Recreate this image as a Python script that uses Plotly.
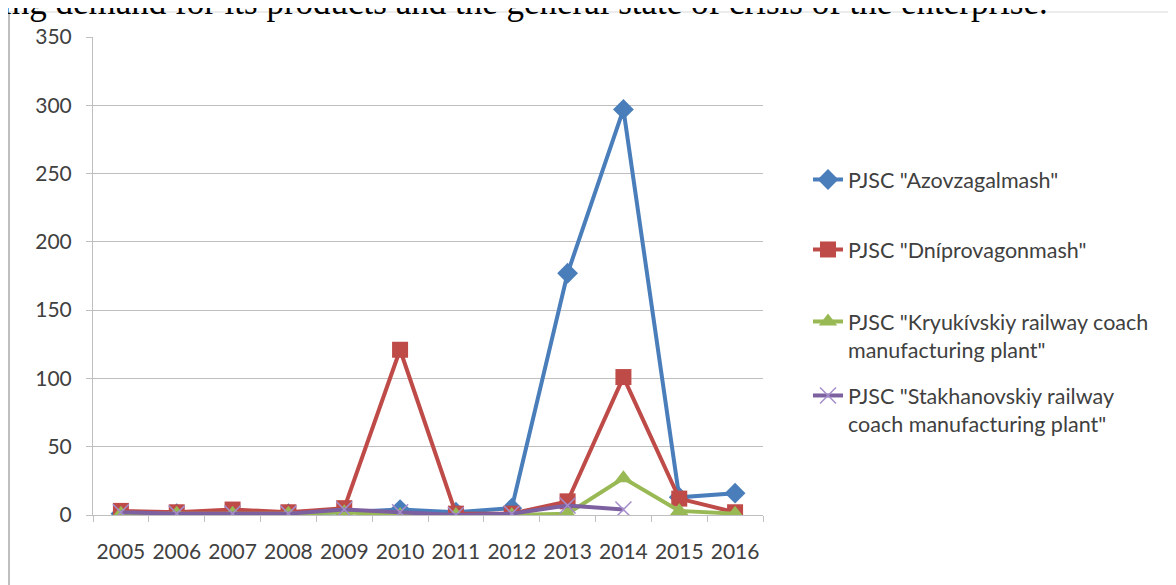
import plotly.graph_objects as go

years = ["2005", "2006", "2007", "2008", "2009", "2010", "2011", "2012", "2013", "2014", "2015", "2016"]
azovzagalmash = [1, 1, 1, 1, 2, 4, 2, 5, 177, 297, 13, 16]
dniprovagonmash = [3, 2, 4, 2, 5, 121, 1, 1, 10, 101, 12, 2]
kryukivskiy = [1, 1, 1, 1, 2, 0, 0, 0, 1, 27, 3, 1]
stakhanovskiy = [2, 1, 1, 1, 4, 2, 0, 1, 7, 4, None, None]

names = [
    'PJSC "Azovzagalmash"',
    'PJSC "Dníprovagonmash"',
    'PJSC "Kryukívskiy railway coach<br>manufacturing plant"',
    'PJSC "Stakhanovskiy railway<br>coach manufacturing plant"',
]
y_ticks = [0, 50, 100, 150, 200, 250, 300, 350]

OFF = 8  # page body margin
W, H = 1176 - OFF, 585 - OFF
# plot area in page pixels
PL, PR, PT, PB = 93, 763, 37, 515
L, R, T, B = PL - OFF, PR - OFF, PT - OFF, PB - OFF


def px(p):
    return (p - PL) / (PR - PL)


def py(p):
    return (PB - p) / (PB - PT)


FONT = "Lato"
TXT = "#404040"

fig = go.Figure()
fig.add_trace(go.Scatter(x=years, y=azovzagalmash, name=names[0], mode="lines+markers",
                         line=dict(color="#4A7EBB", width=4),
                         marker=dict(symbol="diamond", size=16, color="#4A7EBB"),
                         legend="legend"))
fig.add_trace(go.Scatter(x=years, y=dniprovagonmash, name=names[1], mode="lines+markers",
                         line=dict(color="#BE4B48", width=4),
                         marker=dict(symbol="square", size=16, color="#BE4B48"),
                         legend="legend2"))
fig.add_trace(go.Scatter(x=years, y=kryukivskiy, name=names[2], mode="lines+markers",
                         line=dict(color="#98B954", width=4),
                         marker=dict(symbol="triangle-up", size=16, color="#98B954"),
                         legend="legend3"))
fig.add_trace(go.Scatter(x=years, y=stakhanovskiy, name=names[3], mode="lines+markers",
                         line=dict(color="#7D60A0", width=4),
                         marker=dict(symbol="x-thin", size=16, color="#A58DCB",
                                     line=dict(color="#A58DCB", width=1.5)),
                         legend="legend4"))

leg_common = dict(xanchor="left", yanchor="top", bgcolor="rgba(0,0,0,0)",
                  font=dict(family=FONT, size=21.5, color=TXT), valign="top",
                  itemwidth=30)
legend_tops = [159, 229, 301, 375]
LX = 808
fig.update_layout(
    legend=dict(x=px(LX), y=py(legend_tops[0]), **leg_common),
    legend2=dict(x=px(LX), y=py(legend_tops[1]), **leg_common),
    legend3=dict(x=px(LX), y=py(legend_tops[2]), **leg_common),
    legend4=dict(x=px(LX), y=py(legend_tops[3]), **leg_common),
)

fig.update_layout(
    width=W, height=H,
    margin=dict(l=L, r=W - R, t=T, b=H - B, autoexpand=False),
    paper_bgcolor="white", plot_bgcolor="white",
    showlegend=True,
    hovermode=False,
    font=dict(family=FONT, color=TXT, size=21),
    xaxis=dict(type="category", range=[-0.5, 11.5], showgrid=False,
               showline=True, linecolor="#BFBFBF", linewidth=1,
               ticks="outside", ticklen=6, tickcolor="#BFBFBF", tickson="boundaries",
               tickangle=0,
               tickfont=dict(family=FONT, size=21, color=TXT), ticklabelstandoff=18),
    yaxis=dict(range=[0, 350], tickvals=y_ticks, showgrid=True, gridcolor="#BFBFBF",
               gridwidth=1, zeroline=False,
               showline=True, linecolor="#BFBFBF", linewidth=1,
               ticks="outside", ticklen=6, tickcolor="#BFBFBF",
               tickfont=dict(family=FONT, size=21, color=TXT), ticklabelstandoff=10),
)

# Surrounding document text and frame
fig.add_annotation(text="ing demand for its products and the general state of crisis of the enterprise.",
                   xref="paper", yref="paper", x=px(0), y=py(2.5), xanchor="left", yanchor="middle",
                   showarrow=False, font=dict(family="Liberation Serif", size=35, color="black"))
fig.add_shape(type="line", xref="paper", yref="paper", x0=px(9), x1=px(1180), y0=py(12), y1=py(12),
              line=dict(color="#D9D9D9", width=1))
fig.add_shape(type="line", xref="paper", yref="paper", x0=px(9), x1=px(9), y0=py(12), y1=py(600),
              line=dict(color="#BFBFBF", width=2))

fig.write_html("out.html")
